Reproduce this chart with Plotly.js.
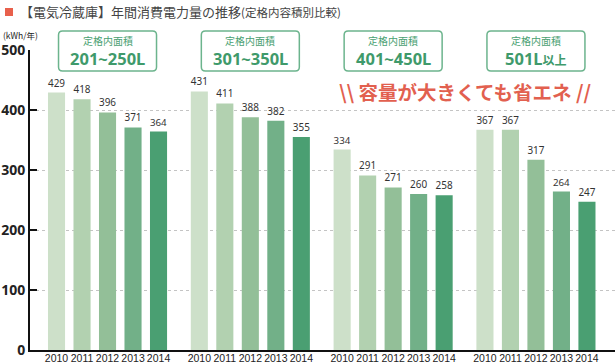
<!DOCTYPE html>
<html>
<head>
<meta charset="utf-8">
<script src="https://cdn.plot.ly/plotly-3.0.1.min.js"></script>
<style>html,body{margin:0;padding:0;background:#fff;}</style>
</head>
<body>
<div id="chart" style="width:615px;height:364px;"></div>
<script>
// ---- data ----
const groups = ['201~250L', '301~350L', '401~450L', '501L<span style="font-size:12px">以上</span>'];
const groupCaption = '定格内面積';
const years = ['2010', '2011', '2012', '2013', '2014'];
const v2010 = [429, 431, 334, 367];
const v2011 = [418, 411, 291, 367];
const v2012 = [396, 388, 271, 317];
const v2013 = [371, 382, 260, 264];
const v2014 = [364, 355, 258, 247];
const yearValues = [v2010, v2011, v2012, v2013, v2014];
const yTicks = [0, 100, 200, 300, 400, 500];
const titleMain = '【電気冷蔵庫】年間消費電力量の推移';
const titleSub = '(定格内容積別比較)';
const unitLabel = '(kWh/年)';
const slogan = '容量が大きくても省エネ';

// ---- styling ----
const colors = ['#cde0c9', '#b2d1b0', '#93bf98', '#72b088', '#4a9f72'];
const FONT = '"Noto Sans CJK JP", "Noto Sans", sans-serif';
const NUMFONT = '"Noto Sans", "Noto Sans CJK JP", sans-serif';
const GAP = 5.6; // slot distance between groups
const XR = [-1.04, 21.9];

const pos = (g, i) => g * GAP + i;
const toPaperX = v => (v - XR[0]) / (XR[1] - XR[0]);

const traces = years.map((yr, i) => ({
  type: 'bar',
  x: groups.map((_, g) => pos(g, i)),
  y: yearValues[i],
  width: 0.67,
  marker: { color: colors[i], line: { width: 0 } },
  text: yearValues[i].map(String),
  textposition: 'outside',
  cliponaxis: false,
  textfont: { family: NUMFONT, size: 13, color: '#333' },
  hoverinfo: 'x+y',
  name: yr
}));

const tickvals = [], ticktext = [];
groups.forEach((_, g) => years.forEach((yr, i) => { tickvals.push(pos(g, i)); ticktext.push(yr); }));

function roundRect(w, h0, h1, r) {
  const x0 = -w / 2, x1 = w / 2;
  return `M ${x0 + r},${h1} L ${x1 - r},${h1} Q ${x1},${h1} ${x1},${h1 - r} ` +
         `L ${x1},${h0 + r} Q ${x1},${h0} ${x1 - r},${h0} L ${x0 + r},${h0} ` +
         `Q ${x0},${h0} ${x0},${h0 + r} L ${x0},${h1 - r} Q ${x0},${h1} ${x0 + r},${h1} Z`;
}

const shapes = groups.map((_, g) => ({
  type: 'path',
  xref: 'paper', yref: 'paper',
  xsizemode: 'pixel', ysizemode: 'pixel',
  xanchor: toPaperX(pos(g, 2)), yanchor: 1,
  path: roundRect(98, -21, 19, 4),
  fillcolor: '#ffffff',
  line: { color: '#6cb48d', width: 1.5 },
  layer: 'above'
}));
// red square of the title
shapes.push({
  type: 'rect', xref: 'paper', yref: 'paper',
  x0: (5 - 30) / 585, x1: (13 - 30) / 585,
  y0: (350 - 16) / 300, y1: (350 - 8) / 300,
  fillcolor: '#e8604c', line: { width: 0 }
});

const annotations = [];
groups.forEach((label, g) => {
  annotations.push({
    xref: 'x', yref: 'y', x: pos(g, 2), y: 500, yshift: 10,
    text: groupCaption, showarrow: false, yanchor: 'middle',
    font: { family: FONT, size: 10, color: '#4a9f72' }
  });
  annotations.push({
    xref: 'x', yref: 'y', x: pos(g, 2), y: 500, yshift: -8.5,
    text: '<b>' + label + '</b>', showarrow: false, yanchor: 'middle',
    font: { family: NUMFONT, size: 16.5, color: '#3f9a6b' }
  });
});
annotations.push({
  xref: 'x', yref: 'y', x: (pos(2, 2) + pos(3, 2)) / 2, y: 500, yshift: -41,
  text: '<b>\\\\ ' + slogan + ' //</b>', showarrow: false, yanchor: 'middle',
  font: { family: FONT, size: 19.5, color: '#e2604f' }
});
annotations.push({
  xref: 'paper', yref: 'paper', x: (1 - 30) / 585, y: (350 - 35) / 300,
  xanchor: 'left', yanchor: 'middle', showarrow: false,
  text: unitLabel, font: { family: FONT, size: 8.5, color: '#222' }
});

const layout = {
  width: 615, height: 364,
  margin: { l: 30, r: 0, t: 50, b: 14, pad: 0 },
  paper_bgcolor: '#ffffff', plot_bgcolor: '#ffffff',
  showlegend: false,
  barmode: 'overlay',
  title: {
    text: titleMain + '<span style="font-size:11.5px">' + titleSub + '</span>',
    xref: 'container', yref: 'container',
    x: 20 / 615, xanchor: 'left', y: 1 - 12 / 364, yanchor: 'middle',
    font: { family: FONT, size: 13, color: '#444' }
  },
  xaxis: {
    range: XR,
    tickmode: 'array', tickvals: tickvals, ticktext: ticktext,
    tickangle: 0,
    ticks: '', showgrid: false, zeroline: false,
    showline: true, linecolor: '#111', linewidth: 2,
    tickfont: { family: '"Liberation Sans", Arial, sans-serif', size: 10.5, color: '#222' },
    ticklabelstandoff: -3,
    automargin: false, fixedrange: true
  },
  yaxis: {
    range: [0, 500],
    tickmode: 'array', tickvals: yTicks,
    ticks: 'inside', ticklen: 7, tickwidth: 2, tickcolor: '#111',
    showline: true, linecolor: '#111', linewidth: 2,
    showgrid: true, gridcolor: '#c4c4c4', gridwidth: 1, griddash: 'dot',
    zeroline: false,
    tickfont: { family: NUMFONT, size: 14, color: '#222', weight: 'bold' },
    ticklabelstandoff: 0,
    automargin: false, fixedrange: true
  },
  shapes: shapes,
  annotations: annotations
};

Plotly.newPlot('chart', traces, layout, { displayModeBar: false, staticPlot: true });
</script>
</body>
</html>
